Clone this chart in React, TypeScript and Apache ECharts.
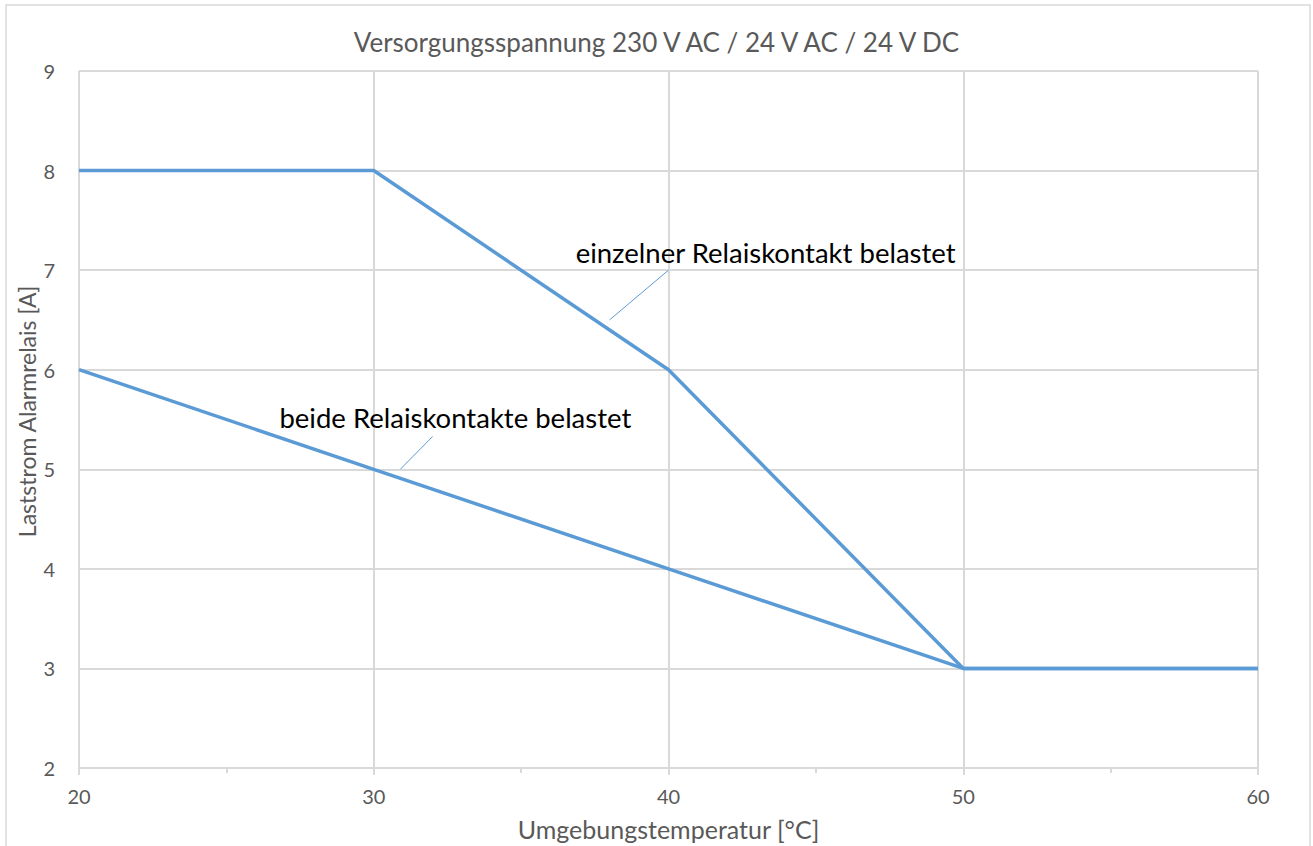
import React, { useEffect, useRef } from "react";
import * as echarts from "echarts";

const xValues = [20, 30, 40, 50, 60];
const singleContact = [8, 8, 6, 3, 3];
const bothContacts = [6, 5, 4, 3, 3];

const titleText = "Versorgungsspannung 230 V AC / 24 V AC / 24 V DC";
const xName = "Umgebungstemperatur [°C]";
const yName = "Laststrom Alarmrelais [A]";
const labelSingle = "einzelner Relaiskontakt belastet";
const labelBoth = "beide Relaiskontakte belastet";

// annotation anchor points in data coordinates
const leaderSingle = [[38, 6.5], [40, 7]];
const leaderBoth = [[30.9, 5.0], [32, 5.33]];
const textSingleAt = [36.85, 7.18];
const textBothAt = [26.8, 5.52];

const FONT = "Lato, 'Open Sans', sans-serif";
const BLUE = "#5B9BD5";
const GRAY = "#d9d9d9";
const TXT = "#595959";

export default function App() {
  const ref = useRef<HTMLDivElement>(null);
  useEffect(() => {
    document.body.style.margin = "0";
    const chart = echarts.init(ref.current!, undefined, { renderer: "svg" });
    const mk = (vals: number[]) => xValues.map((x, i) => [x, vals[i]]);
    const leader = (pts: number[][]) => ({
      symbol: "none",
      silent: true,
      label: { show: false },
      lineStyle: { color: BLUE, width: 1, type: "solid" },
      data: [[{ coord: pts[0] }, { coord: pts[1] }]],
    });
    chart.setOption({
      animation: false,
      textStyle: { fontFamily: FONT },
      title: {
        text: titleText,
        left: "center",
        top: 24,
        textStyle: { color: TXT, fontSize: 26, fontWeight: "normal", fontFamily: FONT },
      },
      grid: { left: 79, right: 55, top: 71, bottom: 77, containLabel: false },
      xAxis: {
        type: "value",
        min: 20,
        max: 60,
        interval: 10,
        name: xName,
        nameLocation: "middle",
        nameGap: 48,
        nameTextStyle: { color: TXT, fontSize: 25, fontFamily: FONT },
        axisLine: { show: true, lineStyle: { color: GRAY, width: 2 } },
        axisTick: { show: true, length: 7, lineStyle: { color: GRAY, width: 2 } },
        minorTick: { show: true, splitNumber: 2, length: 5, lineStyle: { color: GRAY, width: 2 } },
        axisLabel: { color: TXT, fontSize: 20, margin: 18, fontFamily: FONT },
        splitLine: { show: true, lineStyle: { color: GRAY, width: 2 } },
      },
      yAxis: {
        type: "value",
        min: 2,
        max: 9,
        interval: 1,
        name: yName,
        nameLocation: "middle",
        nameGap: 41,
        nameMoveOverlap: false,
        nameTextStyle: { color: TXT, fontSize: 23, fontFamily: FONT, padding: [0, 0, 0, 16] },
        axisLine: { show: false },
        axisTick: { show: false },
        axisLabel: { color: TXT, fontSize: 20, margin: 24, fontFamily: FONT },
        splitLine: { show: true, lineStyle: { color: GRAY, width: 2 } },
      },
      series: [
        {
          type: "line",
          data: mk(singleContact),
          symbol: "none",
          lineStyle: { color: BLUE, width: 3.5 },
          markLine: leader(leaderSingle),
        },
        {
          type: "line",
          data: mk(bothContacts),
          symbol: "none",
          lineStyle: { color: BLUE, width: 3.5 },
          markLine: leader(leaderBoth),
        },
      ],
    });
    const p1 = chart.convertToPixel({ gridIndex: 0 }, textSingleAt) as number[];
    const p2 = chart.convertToPixel({ gridIndex: 0 }, textBothAt) as number[];
    chart.setOption({
      graphic: [
        {
          type: "rect",
          shape: { x: 6, y: 5, width: 1304, height: 900 },
          style: { fill: "none", stroke: GRAY, lineWidth: 1.5 },
          silent: true,
          z: -1,
        },
        {
          type: "text",
          x: p1[0],
          y: p1[1],
          style: { text: labelSingle, fill: "#000", font: `27.5px ${FONT}`, verticalAlign: "middle", align: "left" },
        },
        {
          type: "text",
          x: p2[0],
          y: p2[1],
          style: { text: labelBoth, fill: "#000", font: `27.5px ${FONT}`, verticalAlign: "middle", align: "left" },
        },
      ],
    });
    return () => chart.dispose();
  }, []);
  return <div ref={ref} style={{ width: 1313, height: 846 }} />;
}
